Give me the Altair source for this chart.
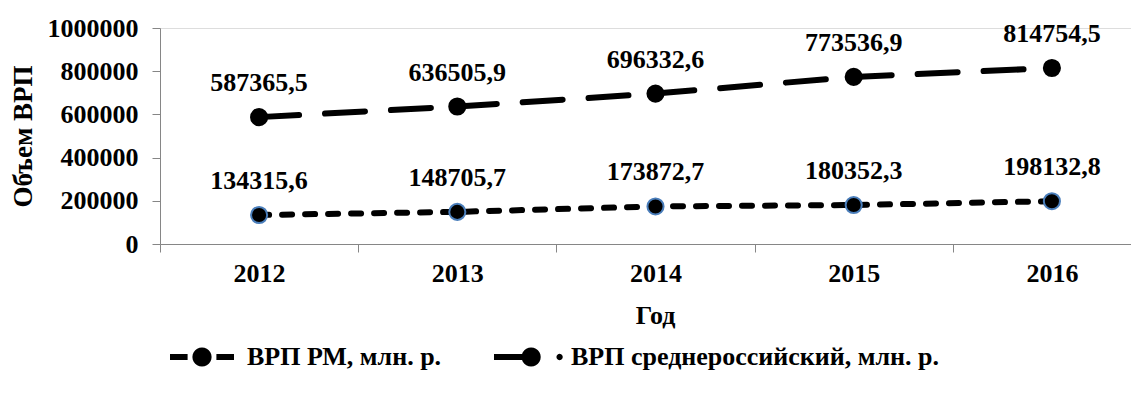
import math
import altair as alt
import pandas as pd

years = ["2012", "2013", "2014", "2015", "2016"]
rm_values = [134315.6, 148705.7, 173872.7, 180352.3, 198132.8]
avg_values = [587365.5, 636505.9, 696332.6, 773536.9, 814754.5]
series_names = ["ВРП РМ, млн. р.", "ВРП среднероссийский, млн. р."]
y_ticks = [0, 200000, 400000, 600000, 800000, 1000000]

rows = []
for name, vals in zip(series_names, [rm_values, avg_values]):
    for yr, v in zip(years, vals):
        rows.append({"year": yr, "value": v, "series": name,
                     "label": f"{v:.1f}".replace(".", ",")})
df = pd.DataFrame(rows)

FONT = "Liberation Serif"
GRAY = "#868686"
DASHES = [[10, 13], [40, 26]]
MARKER_STROKES = ["#4a7ebb", "black"]


def disc(cx, r, n=24):
    pts = [(cx + r * math.cos(2 * math.pi * k / n), r * math.sin(2 * math.pi * k / n))
           for k in range(n)]
    s = "M{:.3f},{:.3f}".format(*pts[0])
    for p in pts[1:]:
        s += "L{:.3f},{:.3f}".format(*p)
    return s + "Z"


def bar(x0, x1, h=0.095):
    return "M{0:.3f},{2:.3f}L{1:.3f},{2:.3f}L{1:.3f},{3:.3f}L{0:.3f},{3:.3f}Z".format(x0, x1, -h, h)


# legend symbols (unit-square SVG paths, filled: dashes + marker)
sym_rm = bar(-1, -0.45) + bar(0.45, 1) + disc(0, 0.3)
sym_avg = bar(-1, 0.1) + disc(0.16, 0.3) + disc(1.05, 0.1, 12)

x_enc = alt.X("year:N",
              scale=alt.Scale(type="band", range=[0, 991], paddingInner=0, paddingOuter=0),
              axis=alt.Axis(title="Год", labelAngle=0, tickBand="extent",
                            domainColor=GRAY, tickColor=GRAY, tickSize=8,
                            labelFont=FONT, labelFontSize=26, labelFontWeight="bold",
                            labelColor="black", labelPadding=8,
                            titleFont=FONT, titleFontSize=26, titleFontWeight="bold",
                            titleColor="black", titleX=495, titleY=71,
                            titleBaseline="middle"))
y_enc = alt.Y("value:Q",
              scale=alt.Scale(domain=[0, 1000000], nice=False),
              axis=alt.Axis(title="Объем ВРП", values=y_ticks, format="d", grid=False,
                            domainColor=GRAY, tickColor=GRAY, tickSize=8,
                            labelFont=FONT, labelFontSize=26, labelFontWeight="bold",
                            labelColor="black", labelPadding=14,
                            titleFont=FONT, titleFontSize=27, titleFontWeight="bold",
                            titleColor="black", titleAngle=270, titleX=-137, titleY=108,
                            titleBaseline="middle"))

base = alt.Chart(df).encode(x=x_enc, y=y_enc)

layers = []
for name, dash in zip(series_names, DASHES):
    layers.append(base.transform_filter(alt.datum.series == name).mark_line(
        strokeWidth=6, strokeCap="round", color="black", strokeDash=dash))
for name, stroke in zip(series_names, MARKER_STROKES):
    layers.append(base.transform_filter(alt.datum.series == name).mark_point(
        filled=True, fill="black", size=260, strokeWidth=2, opacity=1, stroke=stroke))

labels = base.mark_text(dy=-26, baseline="alphabetic", font=FONT, fontSize=26,
                        fontWeight="bold", color="black").encode(text="label:N")
layers.append(labels)

# legend-only layer: no rows survive the filter, the legend comes from the explicit domain
legend_layer = base.transform_filter("datum.value < 0").mark_point(
    filled=True, color="black").encode(
    shape=alt.Shape("series:N",
                    scale=alt.Scale(domain=series_names, range=[sym_rm, sym_avg]),
                    legend=alt.Legend(title=None, orient="none", legendX=10, legendY=297,
                                      direction="horizontal", symbolSize=4096,
                                      symbolFillColor="black", symbolStrokeWidth=0,
                                      symbolOpacity=1,
                                      labelFont=FONT, labelFontSize=26,
                                      labelFontWeight="bold", labelColor="black",
                                      labelOffset=13, columnPadding=52, labelLimit=1000,
                                      padding=0)),
)
layers.append(legend_layer)

chart = alt.layer(*layers).properties(
    width=971, height=216,
    autosize=alt.AutoSizeParams(type="none"),
    padding={"left": 152, "top": 20, "right": 0, "bottom": 149},
).configure_view(stroke=None).configure(background="white")

chart.save("out.html", embed_options={"renderer": "svg", "actions": False})
